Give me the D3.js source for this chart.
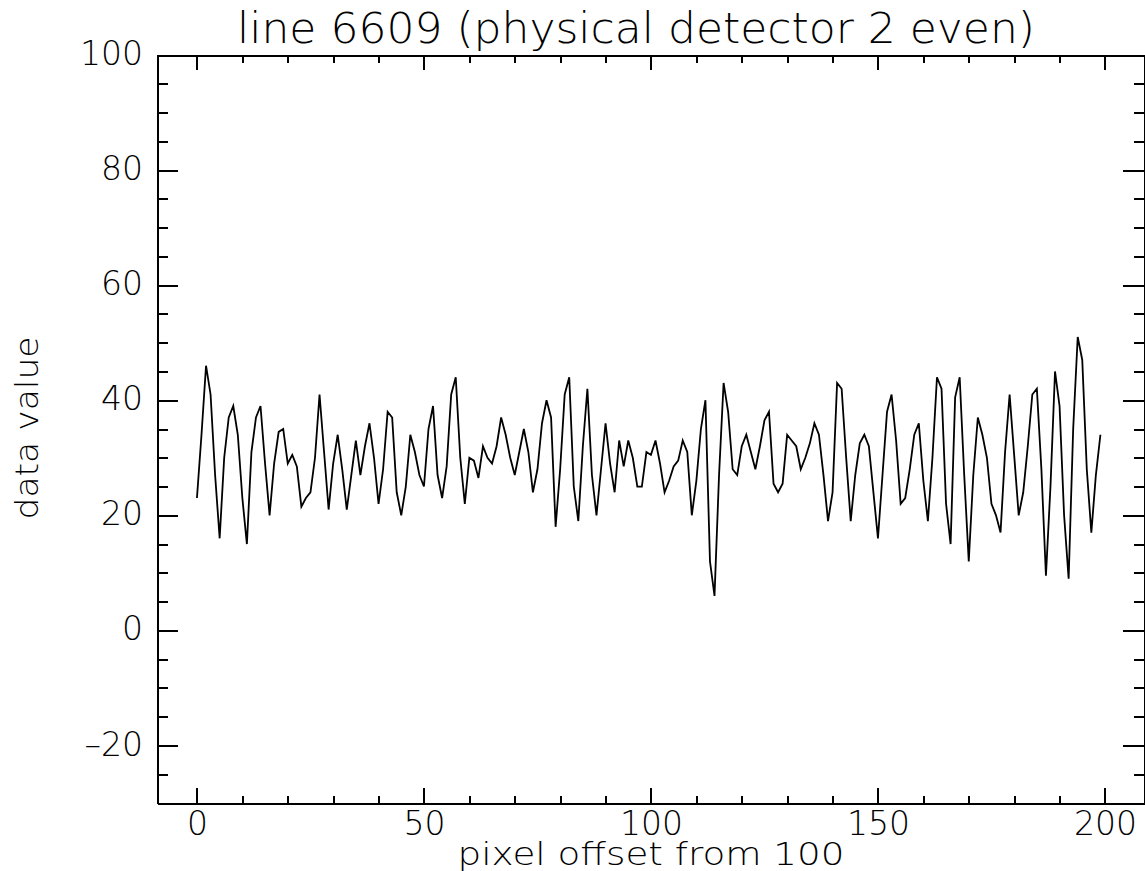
<!DOCTYPE html>
<html lang="en">
  <head>
    <meta charset="UTF-8" />
    <title>line 6609 (physical detector 2 even)</title>
    <script src="https://d3js.org/d3.v7.min.js"></script>
    <style>
      body {
        margin: 0;
        background: #fff;
      }
      svg text {
        font-family: "DejaVu Sans", sans-serif;
        font-weight: 200;
        fill: #000;
      }
      .axis path,
      .axis line {
        fill: none;
        stroke: #000;
        stroke-width: 2px;
        shape-rendering: crispEdges;
      }
      .axis text {
        font-size: 33px;
      }
      .line {
        fill: none;
        stroke: #000;
        stroke-width: 1.8px;
      }
    </style>
  </head>
  <body>
    <script>
      // chart texts
      var titleText = "line 6609 (physical detector 2 even)";
      var xLabel = "pixel offset from 100";
      var yLabel = "data value";

      // tick values
      var xMajorTicks = [0, 50, 100, 150, 200];
      var xMinorTicks = [0, 10, 20, 30, 40, 50, 60, 70, 80, 90, 100, 110, 120, 130, 140, 150, 160, 170, 180, 190, 200];
      var yMajorTicks = [-20, 0, 20, 40, 60, 80, 100];
      var yMinorTicks = [-25, -20, -15, -10, -5, 0, 5, 10, 15, 20, 25, 30, 35, 40, 45, 50, 55, 60, 65, 70, 75, 80, 85, 90, 95];

      // pixel offset (x) of each sample
      var pixelOffset = d3.range(0, 200);

      // data value, one per pixel offset
      var dataValue = [
        23, 34, 46, 41, 27, 16, 30, 37, 39, 34,
        23, 15, 31, 37, 39, 29, 20, 29, 34.5, 35,
        29, 30.5, 28.5, 21.5, 23, 24, 30, 41, 31, 21,
        29, 34, 28, 21, 27, 33, 27, 32, 36, 30,
        22, 28, 38, 37, 24, 20, 25, 34, 31, 27,
        25, 35, 39, 27, 23, 28.5, 41, 44, 30, 22,
        30, 29.5, 26.5, 32, 30, 29, 32, 37, 34, 30,
        27, 31, 35, 31, 24, 28, 36, 40, 37, 18,
        28, 41, 44, 25, 19, 32, 42, 27, 20, 28,
        36, 29, 24, 33, 28.5, 33, 30, 25, 25, 31,
        30.5, 33, 29, 24, 26, 28.5, 29.5, 33, 31, 20,
        26, 35, 40, 12, 6, 27, 43, 38, 28, 27,
        32, 34, 31, 28, 32, 36.5, 38, 25.5, 24, 25.5,
        34, 33, 32, 28, 30, 32.5, 36, 34, 27, 19,
        24, 43, 42, 30, 19, 27, 32.5, 34, 32, 24,
        16, 27, 38, 41, 33, 22, 23, 28, 34, 36,
        26, 19, 30, 44, 42, 22, 15, 40.5, 44, 27,
        12, 27, 37, 34, 30, 22, 20, 17, 31, 41,
        30.5, 20, 24, 32, 41, 42, 28, 9.5, 25, 45,
        39, 20, 9, 35, 51, 47, 28, 17, 27, 34
      ];

      var width = 1145,
        height = 871;
      var plot = { left: 157, right: 1144, top: 55, bottom: 803 };

      var svg = d3
        .select("body")
        .append("svg")
        .attr("width", width)
        .attr("height", height);

      // scales (axis box runs a little past 0 and 200)
      var x = d3.scaleLinear().domain([-8.8, 208.6]).range([plot.left, plot.right]);
      var y = d3.scaleLinear().domain([-30, 100]).range([plot.bottom, plot.top]);

      var xTickLen = 15,
        yTickLen = 21;

      // bottom axis: major with labels, minor without
      svg
        .append("g")
        .attr("class", "axis")
        .attr("transform", "translate(0," + plot.bottom + ")")
        .call(d3.axisBottom(x).tickValues(xMajorTicks).tickSize(-xTickLen).tickSizeOuter(0).tickPadding(9));
      svg
        .append("g")
        .attr("class", "axis")
        .attr("transform", "translate(0," + plot.bottom + ")")
        .call(d3.axisBottom(x).tickValues(xMinorTicks).tickSize(-xTickLen / 2).tickSizeOuter(0).tickFormat(""));

      // top axis
      svg
        .append("g")
        .attr("class", "axis")
        .attr("transform", "translate(0," + plot.top + ")")
        .call(d3.axisTop(x).tickValues(xMajorTicks).tickSize(-xTickLen).tickSizeOuter(0).tickFormat(""));
      svg
        .append("g")
        .attr("class", "axis")
        .attr("transform", "translate(0," + plot.top + ")")
        .call(d3.axisTop(x).tickValues(xMinorTicks).tickSize(-xTickLen / 2).tickSizeOuter(0).tickFormat(""));

      // left axis
      svg
        .append("g")
        .attr("class", "axis")
        .attr("transform", "translate(" + plot.left + ",0)")
        .call(
          d3
            .axisLeft(y)
            .tickValues(yMajorTicks)
            .tickSize(-yTickLen)
            .tickSizeOuter(0)
            .tickPadding(14)
            .tickFormat(function (d) {
              return d < 0 ? "\u2013" + Math.abs(d) : d;
            })
        )
        .selectAll("text")
        .attr("dy", "0.29em");
      svg
        .append("g")
        .attr("class", "axis")
        .attr("transform", "translate(" + plot.left + ",0)")
        .call(d3.axisLeft(y).tickValues(yMinorTicks).tickSize(-yTickLen / 2).tickSizeOuter(0).tickFormat(""));

      // right axis
      svg
        .append("g")
        .attr("class", "axis")
        .attr("transform", "translate(" + plot.right + ",0)")
        .call(d3.axisRight(y).tickValues(yMajorTicks).tickSize(-yTickLen).tickSizeOuter(0).tickFormat(""));
      svg
        .append("g")
        .attr("class", "axis")
        .attr("transform", "translate(" + plot.right + ",0)")
        .call(d3.axisRight(y).tickValues(yMinorTicks).tickSize(-yTickLen / 2).tickSizeOuter(0).tickFormat(""));

      // the data line
      var line = d3
        .line()
        .x(function (d, i) {
          return x(pixelOffset[i]);
        })
        .y(function (d) {
          return y(d);
        });

      svg.append("path").datum(dataValue).attr("class", "line").attr("d", line);

      // title and axis titles
      svg
        .append("text")
        .attr("x", 237)
        .attr("y", 43)
        .attr("textLength", 798)
        .attr("lengthAdjust", "spacingAndGlyphs")
        .style("font-size", "42.5px")
        .text(titleText);

      svg
        .append("text")
        .attr("x", 651)
        .attr("y", 865)
        .attr("text-anchor", "middle")
        .attr("textLength", 387)
        .attr("lengthAdjust", "spacingAndGlyphs")
        .style("font-size", "32px")
        .text(xLabel);

      svg
        .append("text")
        .attr("transform", "translate(38,428) rotate(-90)")
        .attr("text-anchor", "middle")
        .attr("textLength", 183)
        .attr("lengthAdjust", "spacingAndGlyphs")
        .style("font-size", "32px")
        .text(yLabel);
    </script>
  </body>
</html>
